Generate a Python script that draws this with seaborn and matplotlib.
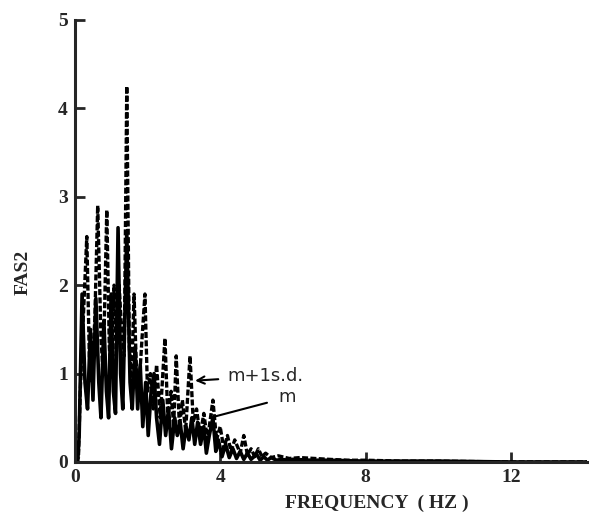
"""
Fourier amplitude spectrum FAS2: mean (m) and mean + 1 s.d.
"""
import matplotlib
matplotlib.use('Agg')
import matplotlib.pyplot as plt
import seaborn as sns

# mean spectrum (solid)
freq_m = [0.0, 0.08, 0.12, 0.2, 0.28, 0.35, 0.43, 0.5, 0.58, 0.66, 0.72, 0.8, 0.87, 0.93,
          1.0, 1.06, 1.12, 1.19, 1.26, 1.32, 1.43, 1.52, 1.58, 1.66, 1.73, 1.8, 1.87,
          1.95, 2.02, 2.1, 2.18, 2.25, 2.33, 2.42, 2.5, 2.58, 2.66, 2.75, 2.82, 2.9,
          2.98, 3.06, 3.14, 3.22, 3.3, 3.38, 3.46, 3.55, 3.62, 3.7, 3.8, 3.88, 3.95,
          4.05, 4.15, 4.25, 4.35, 4.45, 4.55, 4.65, 4.75, 4.85, 5.0, 5.1, 5.2, 5.3,
          5.4, 5.55, 5.7, 5.85, 6.0, 6.5, 7.0, 8.0, 10.0, 12.0, 14.1]
amp_m = [0.0, 0.0, 0.3, 1.9, 0.9, 0.6, 1.5, 0.7, 1.85, 0.9, 0.5, 1.6, 0.8, 0.5,
         1.9, 0.8, 0.55, 2.65, 1.0, 0.6, 2.6, 0.9, 0.6, 1.3, 0.6, 1.1, 0.4,
         0.9, 0.3, 0.8, 1.0, 0.5, 0.2, 0.7, 0.3, 0.6, 0.15, 0.5, 0.3, 0.45,
         0.15, 0.4, 0.25, 0.5, 0.2, 0.45, 0.2, 0.4, 0.1, 0.3, 0.5, 0.12, 0.25,
         0.06, 0.2, 0.05, 0.15, 0.04, 0.12, 0.03, 0.1, 0.03, 0.09, 0.02, 0.06, 0.02,
         0.05, 0.02, 0.03, 0.02, 0.03, 0.02, 0.02, 0.01, 0.01, 0.0, 0.0]

# mean + 1 s.d. spectrum (dashed)
freq_sd = [0.0, 0.1, 0.15, 0.22, 0.33, 0.4, 0.45, 0.55, 0.63, 0.72, 0.78, 0.88, 0.95,
           1.0, 1.08, 1.14, 1.22, 1.3, 1.36, 1.43, 1.5, 1.56, 1.63, 1.7, 1.76, 1.85,
           1.93, 2.0, 2.08, 2.16, 2.25, 2.35, 2.48, 2.56, 2.65, 2.72, 2.79, 2.88, 2.96,
           3.05, 3.17, 3.26, 3.35, 3.45, 3.55, 3.65, 3.8, 3.9, 4.0, 4.1, 4.2, 4.3,
           4.4, 4.55, 4.65, 4.75, 4.85, 4.95, 5.05, 5.15, 5.25, 5.4, 5.6, 5.9, 6.2,
           6.6, 7.0, 7.5, 8.0, 9.0, 10.0, 12.0, 14.1]
amp_sd = [0.0, 0.05, 0.8, 1.5, 2.55, 1.2, 0.9, 1.6, 2.9, 1.4, 1.0, 2.85, 1.3,
          1.0, 2.0, 1.2, 2.0, 1.4, 1.2, 4.25, 1.3, 0.9, 1.9, 1.0, 0.8, 1.4,
          1.9, 0.8, 1.0, 0.6, 1.1, 0.5, 1.4, 0.5, 0.8, 0.4, 1.2, 0.4, 0.7,
          0.35, 1.2, 0.45, 0.6, 0.3, 0.55, 0.25, 0.7, 0.25, 0.4, 0.15, 0.3, 0.12,
          0.25, 0.1, 0.3, 0.08, 0.15, 0.06, 0.15, 0.06, 0.1, 0.05, 0.07, 0.04, 0.05,
          0.04, 0.03, 0.02, 0.02, 0.01, 0.01, 0.0, 0.0]

sns.set_style('ticks')
plt.rcParams['font.family'] = ['Liberation Serif', 'DejaVu Serif']

fig = plt.figure(figsize=(5.89, 5.25), dpi=100)
ax = fig.add_axes([0.127, 0.12, 0.87, 0.842])

sns.lineplot(x=freq_sd, y=amp_sd, ax=ax, color='black', lw=2.4,
             linestyle=(0, (1.8, 0.7)), estimator=None, sort=False)
sns.lineplot(x=freq_m, y=amp_m, ax=ax, color='black', lw=2.6,
             estimator=None, sort=False)

ax.set_xlim(0, 14.1)
ax.set_ylim(0, 5)
ax.set_xticks([0, 4, 8, 12])
ax.set_yticks([0, 1, 2, 3, 4, 5])
ax.tick_params(direction='in', length=7, width=2, labelsize=14, pad=5)
for lab in ax.get_xticklabels() + ax.get_yticklabels():
    lab.set_fontweight('bold')
for s in ['left', 'bottom']:
    ax.spines[s].set_linewidth(2.2)
sns.despine(ax=ax)

ax.set_xlabel('FREQUENCY  ( HZ )', fontsize=14, fontweight='bold')
ax.xaxis.set_label_coords(0.59, -0.075)
ax.set_ylabel('FAS2', fontsize=14, fontweight='bold')
ax.yaxis.set_label_coords(-0.085, 0.43)

ax.annotate('m+1s.d.', xy=(3.31, 0.92), xytext=(4.19, 0.97),
            fontsize=13, family=['DejaVu Sans'], va='center',
            arrowprops=dict(arrowstyle='->', color='black', lw=1.5,
                            shrinkA=4, shrinkB=0))
ax.annotate('m', xy=(3.81, 0.51), xytext=(5.6, 0.73),
            fontsize=13, family=['DejaVu Sans'], va='center',
            arrowprops=dict(arrowstyle='-', color='black', lw=1.5,
                            shrinkA=6, shrinkB=0))

fig.savefig('out.png', dpi=100)
